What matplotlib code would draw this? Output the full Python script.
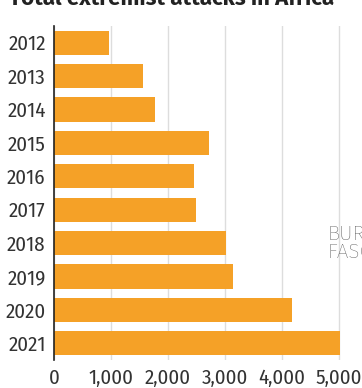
import matplotlib.pyplot as plt
from matplotlib.ticker import FuncFormatter

years = ["2012", "2013", "2014", "2015", "2016", "2017", "2018", "2019", "2020", "2021"]
attacks = [965, 1560, 1770, 2720, 2460, 2490, 3020, 3140, 4175, 5020]
xticks = [0, 1000, 2000, 3000, 4000, 5000]

plt.rcParams['font.family'] = ['Fira Sans Condensed', 'DejaVu Sans']

W, H = 362, 388
fig = plt.figure(figsize=(W / 100, H / 100), dpi=100)
ax = fig.add_axes([54 / W, 1 - 360 / H, (W - 54) / W, (360 - 26) / H])

ypos = list(range(len(years)))
ax.barh(ypos, attacks, height=0.72, color="#f5a127", zorder=2)
ax.set_ylim(len(years) - 0.5, -0.5)
ax.set_xlim(0, 5400)

ax.set_yticks(ypos)
ax.set_yticklabels(years)
ax.set_xticks(xticks)
ax.xaxis.set_major_formatter(FuncFormatter(lambda v, p: f"{int(v):,}"))
ax.tick_params(axis="y", length=0, pad=6, labelsize=15, labelcolor="#333333")
ax.tick_params(axis="x", length=0, pad=6, labelsize=15, labelcolor="#333333")

ax.grid(axis="x", color="#dddddd", linewidth=1, zorder=0)
for s in ["top", "right", "bottom"]:
    ax.spines[s].set_visible(False)
ax.spines["left"].set_color("#222222")
ax.spines["left"].set_linewidth(1.2)
ax.spines["left"].set_zorder(3)

# title, clipped at the top like the source crop
fig.text(9 / W, 1 - 5 / H, "Total extremist attacks in Africa", fontsize=16,
         fontweight="bold", color="#222222", va="baseline", ha="left",
         family=["Fira Sans", "DejaVu Sans"])

# label from the neighbouring panel
fig.text(327 / W, 1 - 243 / H, "BURKINA\nFASO", fontsize=15, color="#555555",
         va="center", ha="left", linespacing=0.95, fontweight="light",
         family=["Fira Sans", "DejaVu Sans"])

fig.savefig("out.png", dpi=100)
